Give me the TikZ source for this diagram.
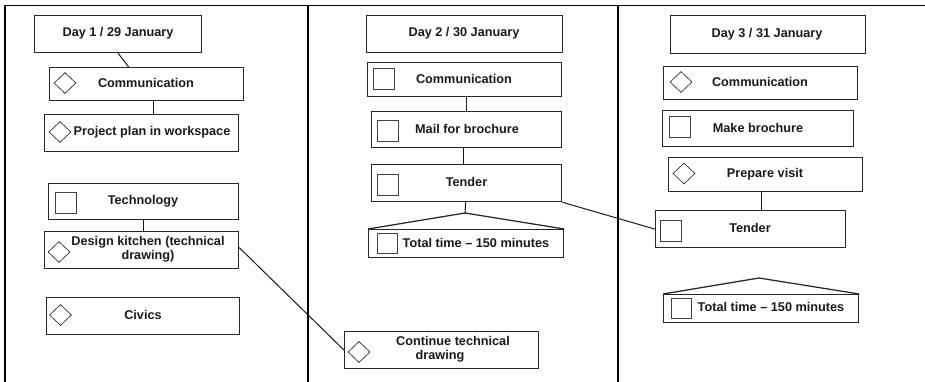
\documentclass[tikz,border=0pt]{standalone}
\usepackage{fontspec}
\setmainfont{Liberation Sans}
\usetikzlibrary{shapes.geometric}
\begin{document}
\begin{tikzpicture}[x=1pt,y=-1pt,
  box/.style={draw=black!85,line width=1.25pt,inner sep=0pt,anchor=north west},
  roof/.style={draw=black!85,line width=1.25pt,line join=miter},
  lbl/.style={font=\bfseries\fontsize{12.7}{14}\selectfont,inner sep=0pt,align=center,text=black!90},
  dia/.style={draw=black!85,diamond,line width=0.65pt,inner sep=0pt,minimum width=22pt,minimum height=21pt},
  sq/.style={draw=black!75,line width=0.75pt,inner sep=0pt,anchor=north west,minimum size=21pt},
  conn/.style={line width=1pt,draw=black!90},
  frame/.style={line width=1.1pt}]
\useasboundingbox (0,0) rectangle (925,382);
% frame
\draw[frame] (5,382) -- (5,5.5) -- (925,5.5);
\draw[frame] (308,5.5) -- (308,382);
\draw[frame] (618,5.5) -- (618,382);

% ---------- Day 1 ----------
\node[box,minimum width=167pt,minimum height=37pt] (day1) at (34,15) {};
\node[lbl] (tday1) at (118,33) {Day 1 / 29 January};
\node[box,minimum width=194pt,minimum height=33pt] (comm1) at (49,67) {};
\node[dia] (dcomm1) at (65,83) {};
\node[lbl] (tcomm1) at (146,83) {Communication};
\node[box,minimum width=194pt,minimum height=37pt] (pp) at (44,114) {};
\node[dia] (dpp) at (60,132) {};
\node[lbl] (tpp) at (152,132) {Project plan in workspace};
\node[box,minimum width=190pt,minimum height=36pt] (tech) at (48,183) {};
\node[sq] (stech) at (55,192) {};
\node[lbl] (ttech) at (143,201) {Technology};
\node[box,minimum width=194pt,minimum height=37pt] (design) at (44,231) {};
\node[dia] (ddesign) at (59,252) {};
\node[lbl] (tdesign) at (148,249) {Design kitchen (technical\\drawing)};
\node[box,minimum width=193pt,minimum height=37pt] (civics) at (46,297) {};
\node[dia] (dcivics) at (60.5,315) {};
\node[lbl] (tcivics) at (143,315) {Civics};

% ---------- Day 2 ----------
\node[box,minimum width=196pt,minimum height=37pt] (day2) at (366,15) {};
\node[lbl] (tday2) at (464,33) {Day 2 / 30 January};
\node[box,minimum width=194pt,minimum height=34pt] (comm2) at (367,62) {};
\node[sq] (scomm2) at (373,68) {};
\node[lbl] (tcomm2) at (464,79) {Communication};
\node[box,minimum width=190pt,minimum height=36pt] (mail) at (371,111) {};
\node[sq] (smail) at (377,120) {};
\node[lbl] (tmail) at (467,129) {Mail for brochure};
\node[box,minimum width=190pt,minimum height=37pt] (tender2) at (371,164) {};
\node[sq] (stender2) at (377,173.5) {};
\node[lbl] (ttender2) at (466.5,182) {Tender};
\node[box,minimum width=195pt,minimum height=28pt] (tot2) at (368,229) {};
\coordinate (apex2) at (465,213);
\draw[roof] (tot2.north west) -- (apex2) -- (tot2.north east);
\node[sq,minimum size=20pt] (stot2) at (377,233) {};
\node[lbl] (ttot2) at (476,243) {Total time -- 150 minutes};
\node[box,minimum width=194pt,minimum height=37pt] (cont) at (344,331) {};
\node[dia] (dcont) at (359,352) {};
\node[lbl] (tcont) at (453,349) {Continue technical\\drawing\hspace*{26pt}};

% ---------- Day 3 ----------
\node[box,minimum width=195pt,minimum height=38pt] (day3) at (670,15) {};
\node[lbl] (tday3) at (767,34) {Day 3 / 31 January};
\node[box,minimum width=194pt,minimum height=33pt] (comm3) at (663,66) {};
\node[dia] (dcomm3) at (681,82) {};
\node[lbl] (tcomm3) at (760,82) {Communication};
\node[box,minimum width=191pt,minimum height=36pt] (make) at (662,110) {};
\node[sq] (smake) at (669,116) {};
\node[lbl] (tmake) at (758,128) {Make brochure};
\node[box,minimum width=194pt,minimum height=34pt] (prep) at (668,157) {};
\node[dia] (dprep) at (684,173.5) {};
\node[lbl] (tprep) at (765,174) {Prepare visit};
\node[box,minimum width=190pt,minimum height=37pt] (tender3) at (655,210) {};
\node[sq] (stender3) at (660,220) {};
\node[lbl] (ttender3) at (750,228) {Tender};
\node[box,minimum width=195pt,minimum height=28pt] (tot3) at (663,294) {};
\coordinate (apex3) at (759,278);
\draw[roof] (tot3.north west) -- (apex3) -- (tot3.north east);
\node[sq,minimum size=20pt] (stot3) at (671,298) {};
\node[lbl] (ttot3) at (771,307) {Total time -- 150 minutes};

% ---------- connectors ----------
\draw[conn] (day1.south) -- ([xshift=-18pt]comm1.north);
\draw[conn] ([xshift=7pt]comm1.south) -- ([xshift=12pt]pp.north);
\draw[conn] (tech.south) -- ([xshift=2pt]design.north);
\draw[conn] ([yshift=2.5pt]design.east) -- (cont.west);
\draw[conn] ([xshift=2pt]comm2.south) -- (mail.north);
\draw[conn] ([xshift=-3pt]mail.south) -- ([xshift=-3pt]tender2.north);
\draw[conn] ([xshift=-1pt]tender2.south) -- (apex2);
\draw[conn] (tender2.south east) -- (tender3.west);
\draw[conn] ([xshift=-4pt]prep.south) -- ([xshift=11pt]tender3.north);
\end{tikzpicture}
\end{document}
